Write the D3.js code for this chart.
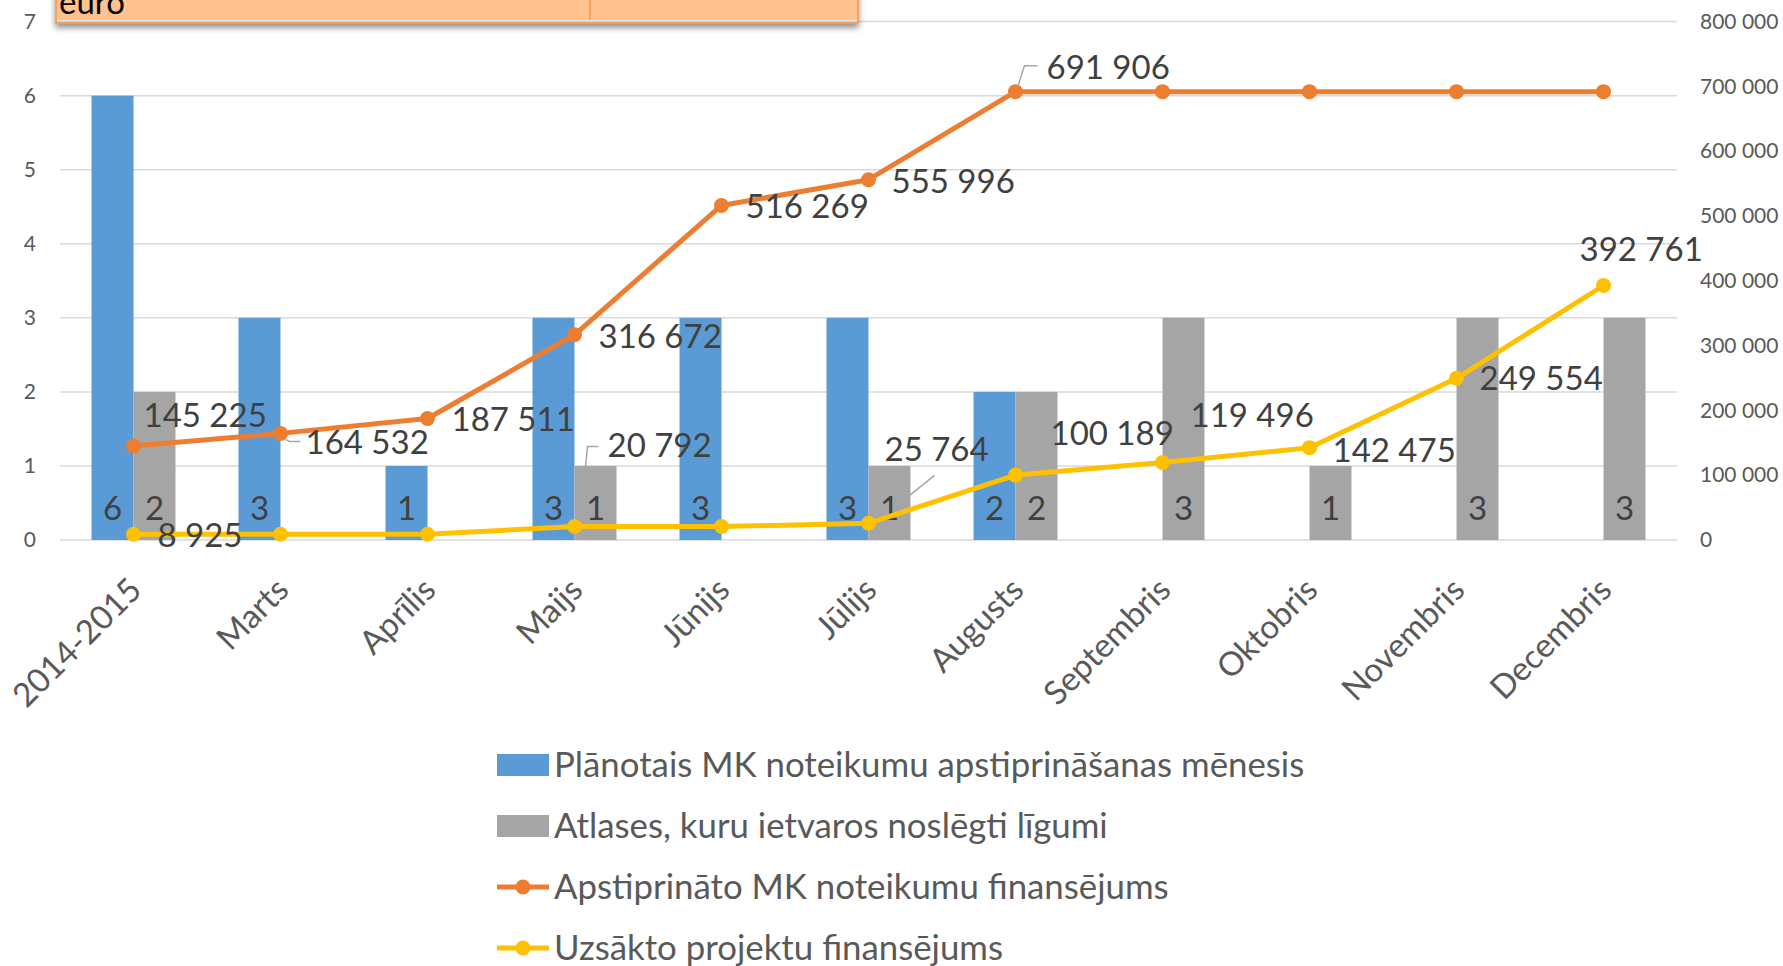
<!DOCTYPE html>
<html>
<head>
<meta charset="utf-8">
<script src="https://cdn.jsdelivr.net/npm/d3@7"></script>
<style>
  body { margin: 0; background: #fff; }
  svg { display: block; font-family: Lato, "Open Sans", sans-serif; }
</style>
</head>
<body>
<svg id="chart"></svg>
<script>
const width = 1783,
      height = 966;

// data
const categories = ["2014-2015", "Marts", "Aprīlis", "Maijs", "Jūnijs", "Jūlijs",
  "Augusts", "Septembris", "Oktobris", "Novembris", "Decembris"];
const plannedCounts   = [6, 3, 1, 3, 3, 3, 2, null, null, null, null];
const selectionCounts = [2, null, null, 1, null, 1, 2, 3, 1, 3, 3];
const approvedFunding = [145225, 164532, 187511, 316672, 516269, 555996, 691906, 691906, 691906, 691906, 691906];
const startedFunding  = [8925, 8925, 8925, 20792, 20792, 25764, 100189, 119496, 142475, 249554, 392761];
const approvedLabelShown = [true, true, true, true, true, true, true, false, false, false, false];
const startedLabelShown  = [true, false, false, true, false, true, true, true, true, true, true];
const leftTicks  = [0, 1, 2, 3, 4, 5, 6, 7];
const rightTicks = [0, 100000, 200000, 300000, 400000, 500000, 600000, 700000, 800000];
const legendLabels = [
  "Plānotais MK noteikumu apstiprināšanas mēnesis",
  "Atlases, kuru ietvaros noslēgti līgumi",
  "Apstiprināto MK noteikumu finansējums",
  "Uzsākto projektu finansējums"
];

// label placement (px offsets from the point), kept apart from the data
const approvedLabelOffsets = [[10, -31], [25, 9], [24, 1], [24, 1], [24, 1], [23, 1], [31, -25]];
const startedLabelOffsets = {0: [24, 1], 3: [33, -81], 5: [16, -74], 6: [35, -42], 7: [28, -47], 8: [23, 2], 9: [23, 0], 10: [-24, -36]};

const colors = { planned: "#5B9BD5", selection: "#A5A5A5", approved: "#ED7D31", started: "#FFC000" };

const fmt = d3.formatLocale({ decimal: ",", thousands: " ", grouping: [3], currency: ["", ""] }).format(",d");

const svg = d3.select("#chart")
  .attr("width", width)
  .attr("height", height);

const plot = { left: 60, right: 1677, top: 21.6, bottom: 540 };

const x = d3.scaleBand()
  .domain(categories)
  .range([plot.left, plot.right]);

const xSub = d3.scaleBand()
  .domain(["planned", "selection"])
  .range([0, x.bandwidth()])
  .paddingOuter(0.75);

const yLeft = d3.scaleLinear().domain([0, 7]).range([plot.bottom, plot.top]);
const yRight = d3.scaleLinear().domain([0, 800000]).range([plot.bottom, plot.top]);

const cx = c => x(c) + x.bandwidth() / 2;

// gridlines
svg.append("g")
  .selectAll("line")
  .data(leftTicks)
  .join("line")
  .attr("x1", plot.left)
  .attr("x2", plot.right)
  .attr("y1", d => yLeft(d))
  .attr("y2", d => yLeft(d))
  .attr("stroke", "#D9D9D9")
  .attr("stroke-width", 1.5);

// left axis
const leftAxis = svg.append("g")
  .attr("transform", `translate(${plot.left - 24},0)`)
  .call(d3.axisLeft(yLeft).tickValues(leftTicks).tickSize(0).tickPadding(0).tickFormat(d3.format("d")));
leftAxis.select(".domain").remove();
leftAxis.selectAll("text")
  .attr("font-family", "Lato")
  .attr("font-size", 21)
  .attr("fill", "#595959");

// right axis
const rightAxis = svg.append("g")
  .attr("transform", `translate(1700,0)`)
  .call(d3.axisRight(yRight).tickValues(rightTicks).tickSize(0).tickPadding(0).tickFormat(fmt));
rightAxis.select(".domain").remove();
rightAxis.selectAll("text")
  .attr("font-family", "Lato")
  .attr("font-size", 21)
  .attr("fill", "#595959");

// bars
const barRows = categories.map((c, i) => [
  { c, key: "planned", v: plannedCounts[i] },
  { c, key: "selection", v: selectionCounts[i] }
]).flat().filter(d => d.v != null);

svg.append("g")
  .selectAll("rect")
  .data(barRows)
  .join("rect")
  .attr("x", d => x(d.c) + xSub(d.key))
  .attr("width", xSub.bandwidth())
  .attr("y", d => yLeft(d.v))
  .attr("height", d => yLeft(0) - yLeft(d.v))
  .attr("fill", d => colors[d.key]);

svg.append("g")
  .selectAll("text")
  .data(barRows)
  .join("text")
  .attr("x", d => x(d.c) + xSub(d.key) + xSub.bandwidth() / 2)
  .attr("y", yLeft(0) - 20)
  .attr("text-anchor", "middle")
  .attr("font-size", 33)
  .attr("fill", "#404040")
  .text(d => d.v);

// lines
function drawLine(values, color) {
  const pts = values.map((v, i) => ({ c: categories[i], v }));
  const line = d3.line().x(d => cx(d.c)).y(d => yRight(d.v));
  svg.append("path")
    .datum(pts)
    .attr("d", line)
    .attr("fill", "none")
    .attr("stroke", color)
    .attr("stroke-width", 5)
    .attr("stroke-linejoin", "round")
    .attr("stroke-linecap", "round");
  svg.append("g")
    .selectAll("circle")
    .data(pts)
    .join("circle")
    .attr("cx", d => cx(d.c))
    .attr("cy", d => yRight(d.v))
    .attr("r", 7.5)
    .attr("fill", color);
}
drawLine(approvedFunding, colors.approved);
drawLine(startedFunding, colors.started);

// leader lines
const leader = (i, values, path) => {
  const px = cx(categories[i]), py = yRight(values[i]);
  svg.append("path")
    .attr("d", d3.line()(path.map(([dx, dy]) => [px + dx, py + dy])))
    .attr("fill", "none")
    .attr("stroke", "#A6A6A6")
    .attr("stroke-width", 1.5);
};
leader(1, approvedFunding, [[5, 6], [9, 8], [20, 8]]);
leader(6, approvedFunding, [[2, -4], [9, -26], [22, -26]]);
leader(3, startedFunding, [[11, -60], [13, -80], [24, -80]]);
leader(5, startedFunding, [[25, -15], [66, -48]]);

// data labels
const labelGroup = svg.append("g")
  .attr("font-size", 33)
  .attr("fill", "#404040");

approvedFunding.forEach((v, i) => {
  if (!approvedLabelShown[i]) return;
  const [dx, dy] = approvedLabelOffsets[i];
  labelGroup.append("text")
    .attr("x", cx(categories[i]) + dx)
    .attr("y", yRight(v) + dy)
    .attr("dy", "0.36em")
    .text(fmt(v));
});

startedFunding.forEach((v, i) => {
  if (!startedLabelShown[i]) return;
  const [dx, dy] = startedLabelOffsets[i];
  labelGroup.append("text")
    .attr("x", cx(categories[i]) + dx)
    .attr("y", yRight(v) + dy)
    .attr("dy", "0.36em")
    .text(fmt(v));
});

// x labels
svg.append("g")
  .selectAll("text")
  .data(categories)
  .join("text")
  .attr("transform", d => `translate(${cx(d) + 10},${plot.bottom + 52}) rotate(-45)`)
  .attr("text-anchor", "end")
  .attr("font-size", 33)
  .attr("fill", "#595959")
  .text(d => d);

// legend
const legend = svg.append("g")
  .attr("transform", "translate(497,0)");
const legendRowY = [765, 826, 887, 948];

legendLabels.forEach((label, i) => {
  const row = legend.append("g").attr("transform", `translate(0,${legendRowY[i]})`);
  if (i < 2) {
    row.append("rect")
      .attr("x", 0).attr("y", -11)
      .attr("width", 52).attr("height", 22)
      .attr("fill", i === 0 ? colors.planned : colors.selection);
  } else {
    const c = i === 2 ? colors.approved : colors.started;
    row.append("line")
      .attr("x1", 0).attr("x2", 52)
      .attr("stroke", c).attr("stroke-width", 5);
    row.append("circle").attr("cx", 26).attr("r", 7.5).attr("fill", c);
  }
  row.append("text")
    .attr("x", 57)
    .attr("y", 12)
    .attr("font-size", 34.8)
    .attr("fill", "#595959")
    .text(label);
});

// overlapping title box at the top
const defs = svg.append("defs");
const shadow = defs.append("filter").attr("id", "shadow").attr("x", "-5%").attr("y", "-50%").attr("width", "110%").attr("height", "250%");
shadow.append("feDropShadow")
  .attr("dx", 0).attr("dy", 4).attr("stdDeviation", 3)
  .attr("flood-color", "#000").attr("flood-opacity", 0.45);

const box = svg.append("g");
box.append("rect")
  .attr("x", 56).attr("y", -10)
  .attr("width", 802).attr("height", 33)
  .attr("fill", "#FFC18E")
  .attr("stroke", "#F79646")
  .attr("stroke-width", 1.5)
  .attr("filter", "url(#shadow)");
box.append("line")
  .attr("x1", 57).attr("x2", 857)
  .attr("y1", 20.5).attr("y2", 20.5)
  .attr("stroke", "#E8E8E8").attr("stroke-width", 1);
box.append("line")
  .attr("x1", 590).attr("x2", 590)
  .attr("y1", -10).attr("y2", 20)
  .attr("stroke", "#F79646").attr("stroke-width", 1.5);
box.append("text")
  .attr("x", 59).attr("y", 14)
  .attr("font-size", 33)
  .attr("fill", "#000")
  .text("euro");
</script>
</body>
</html>
